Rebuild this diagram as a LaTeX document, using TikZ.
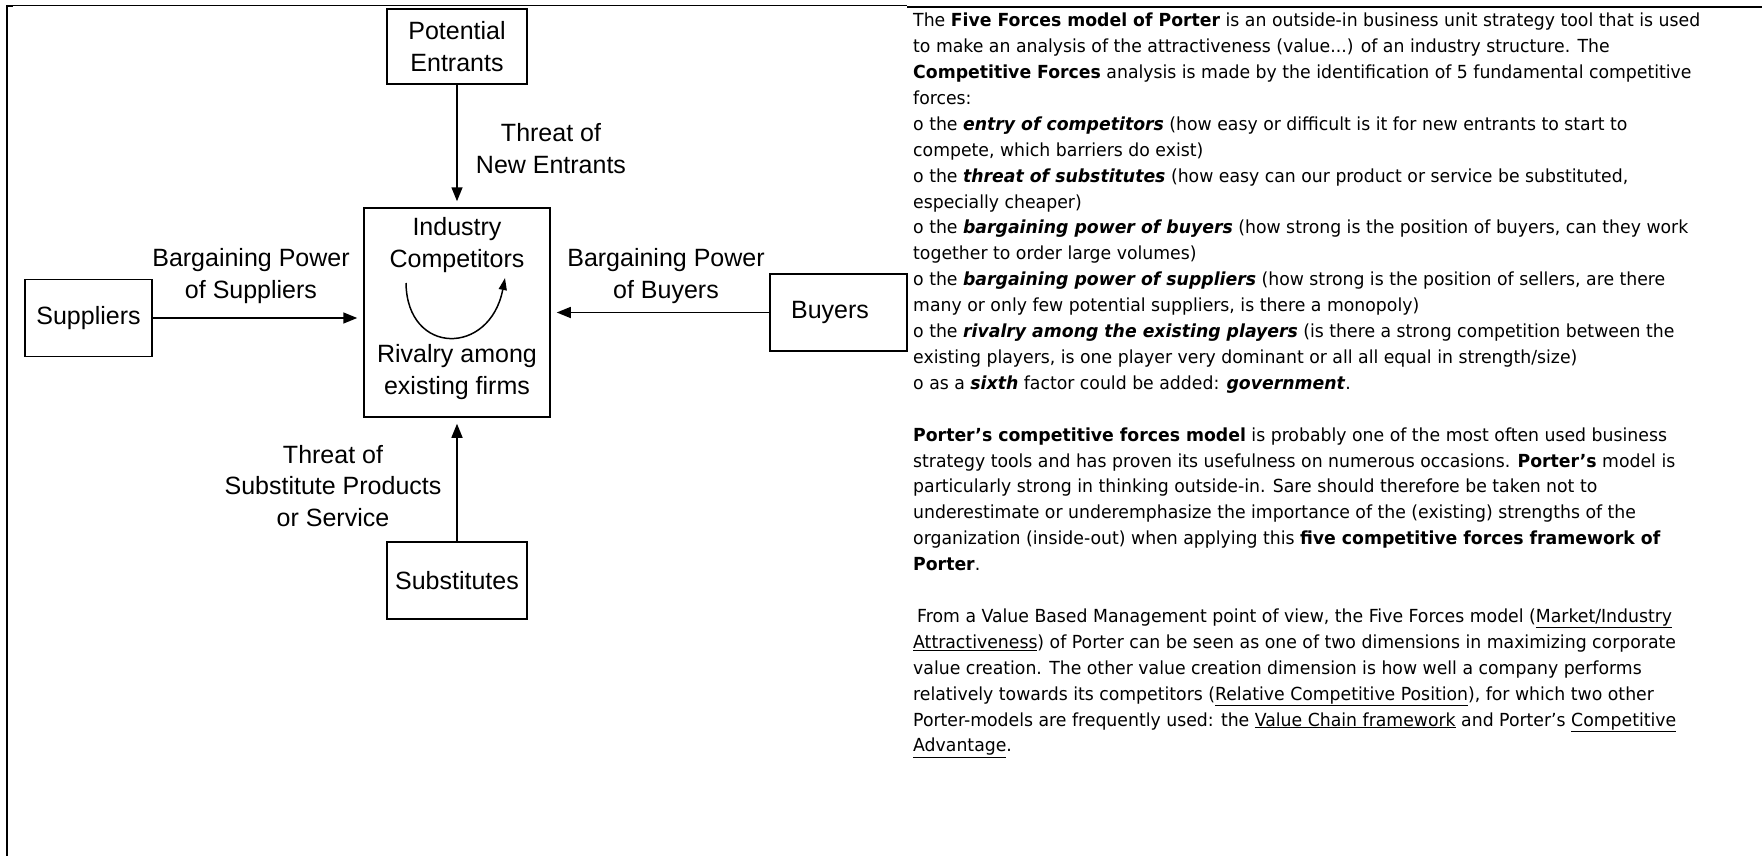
\documentclass[tikz,border=0pt]{standalone}
\usepackage{fontspec}
\usetikzlibrary{arrows.meta}
\setmainfont{DejaVu Sans}[FakeStretch=0.96]
\newfontfamily\dia{Liberation Sans}
\newcommand\txtline[3][913]{\node[txt] (t#2) at (#1,{26.7+25.9*#2}) {#3};}
\newcommand\bi[1]{\textbf{\textit{#1}}}
\begin{document}
\begin{tikzpicture}[x=1pt,y=-1pt,
  dtext/.style={font=\dia\fontsize{25}{31.5}\selectfont, align=center, inner sep=0pt},
  box/.style={draw, line width=1.5pt, dtext},
  arr/.style={line width=1.5pt, -{Triangle[length=14pt,width=11pt]}, shorten >=6pt},
  txt/.style={anchor=base west, inner sep=0pt, font=\fontsize{18}{22}\selectfont}]
\useasboundingbox (0,0) rectangle (1762,856);
% frame lines
\draw[line width=2.3pt] (7,5) -- (7,856);
\draw[line width=1pt] (7,6) -- (907,6);
\draw[line width=2pt] (907,7) -- (1762,7);
\draw[line width=2.3pt] (6,6) -- (13,6);
% boxes
\node[box, minimum width=140pt, minimum height=75pt] (pe) at (457,46.5) {Potential\\Entrants};
\node[box, minimum width=186pt, minimum height=209pt] (ic) at (457,312.5) {};
\node[dtext] (ind) at (457,245) {Industry\\Competitors};
\node[dtext] (riv) at (457,372) {Rivalry among\\existing firms};
\node[box, minimum width=127pt, minimum height=77pt] (sup) at (88.5,318) {Suppliers};
\node[box, minimum width=137pt, minimum height=77pt] (buy) at (838.5,312.5) {Buyers\hspace{17pt}};
\node[box, minimum width=140pt, minimum height=77pt] (sub) at (457,580.5) {Substitutes};
% arrows
\draw[arr] (pe.south) -- (pe.south |- ic.north);
\draw[arr] (sup.east) -- (sup.east -| ic.west);
\draw[arr] (buy.west) -- (buy.west -| ic.east);
\draw[arr] (sub.north) -- (sub.north |- ic.south);
% rivalry curve
\coordinate (c1) at (406,283);
\coordinate (c2) at (505,278);
\draw[line width=1.5pt, -{Triangle[length=12pt,width=8pt]}] (c1) .. controls (407,356) and (490,356) .. (c2);
% labels
\node[dtext] (lne) at (551,148.5) {Threat of\\New Entrants};
\node[dtext] (lbs) at (251,276) {Bargaining Power\\of Suppliers};
\node[dtext] (lbb) at (666,276) {Bargaining Power\\of Buyers};
\node[dtext] (lsp) at (333,486) {Threat of\\Substitute Products\\or Service};
% text
\txtline{0}{The \textbf{Five Forces model of Porter} is an outside-in business unit strategy tool that is used}
\txtline{1}{to make an analysis of the attractiveness (value...) of an industry structure. The}
\txtline{2}{\textbf{Competitive Forces} analysis is made by the identification of 5 fundamental competitive}
\txtline{3}{forces:}
\txtline{4}{o the \bi{entry of competitors} (how easy or difficult is it for new entrants to start to}
\txtline{5}{compete, which barriers do exist)}
\txtline{6}{o the \bi{threat of substitutes} (how easy can our product or service be substituted,}
\txtline{7}{especially cheaper)}
\txtline{8}{o the \bi{bargaining power of buyers} (how strong is the position of buyers, can they work}
\txtline{9}{together to order large volumes)}
\txtline{10}{o the \bi{bargaining power of suppliers} (how strong is the position of sellers, are there}
\txtline{11}{many or only few potential suppliers, is there a monopoly)}
\txtline{12}{o the \bi{rivalry among the existing players} (is there a strong competition between the}
\txtline{13}{existing players, is one player very dominant or all all equal in strength/size)}
\txtline{14}{o as a \bi{sixth} factor could be added: \bi{government}.}
\txtline{16}{\textbf{Porter's competitive forces model} is probably one of the most often used business}
\txtline{17}{strategy tools and has proven its usefulness on numerous occasions. \textbf{Porter's} model is}
\txtline{18}{particularly strong in thinking outside-in. Sare should therefore be taken not to}
\txtline{19}{underestimate or underemphasize the importance of the (existing) strengths of the}
\txtline{20}{organization (inside-out) when applying this \textbf{five competitive forces framework of}}
\txtline{21}{\textbf{Porter}.}
\txtline[917]{23}{From a Value Based Management point of view, the Five Forces model (\underline{Market/Industry}}
\txtline{24}{\underline{Attractiveness}) of Porter can be seen as one of two dimensions in maximizing corporate}
\txtline{25}{value creation. The other value creation dimension is how well a company performs}
\txtline{26}{relatively towards its competitors (\underline{Relative Competitive Position}), for which two other}
\txtline{27}{Porter-models are frequently used: the \underline{Value Chain framework} and Porter's \underline{Competitive}}
\txtline{28}{\underline{Advantage}.}
\end{tikzpicture}
\end{document}
